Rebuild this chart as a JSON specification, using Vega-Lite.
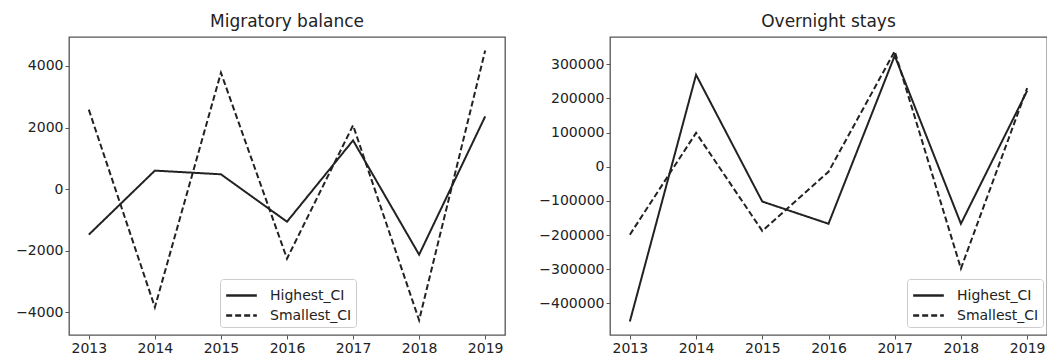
{
  "$schema": "https://vega.github.io/schema/vega-lite/v6.json",
  "autosize": {"type": "pad"},
  "padding": {"left": 14, "top": 12, "right": 0, "bottom": 5},
  "background": "white",
  "datasets": {
    "migratory": [
      {"year": 2013, "series": "Highest_CI", "value": -1480},
      {"year": 2014, "series": "Highest_CI", "value": 600},
      {"year": 2015, "series": "Highest_CI", "value": 480},
      {"year": 2016, "series": "Highest_CI", "value": -1060},
      {"year": 2017, "series": "Highest_CI", "value": 1580},
      {"year": 2018, "series": "Highest_CI", "value": -2130},
      {"year": 2019, "series": "Highest_CI", "value": 2360},
      {"year": 2013, "series": "Smallest_CI", "value": 2580},
      {"year": 2014, "series": "Smallest_CI", "value": -3840},
      {"year": 2015, "series": "Smallest_CI", "value": 3780},
      {"year": 2016, "series": "Smallest_CI", "value": -2260},
      {"year": 2017, "series": "Smallest_CI", "value": 2070},
      {"year": 2018, "series": "Smallest_CI", "value": -4260},
      {"year": 2019, "series": "Smallest_CI", "value": 4500}
    ],
    "overnight": [
      {"year": 2013, "series": "Highest_CI", "value": -453000},
      {"year": 2014, "series": "Highest_CI", "value": 269000},
      {"year": 2015, "series": "Highest_CI", "value": -102000},
      {"year": 2016, "series": "Highest_CI", "value": -167000},
      {"year": 2017, "series": "Highest_CI", "value": 325000},
      {"year": 2018, "series": "Highest_CI", "value": -167000},
      {"year": 2019, "series": "Highest_CI", "value": 222000},
      {"year": 2013, "series": "Smallest_CI", "value": -199000},
      {"year": 2014, "series": "Smallest_CI", "value": 99000},
      {"year": 2015, "series": "Smallest_CI", "value": -188000},
      {"year": 2016, "series": "Smallest_CI", "value": -15000},
      {"year": 2017, "series": "Smallest_CI", "value": 338000},
      {"year": 2018, "series": "Smallest_CI", "value": -298000},
      {"year": 2019, "series": "Smallest_CI", "value": 230000}
    ]
  },
  "config": {
    "font": "DejaVu Sans",
    "view": {"stroke": "#555", "strokeWidth": 1.3},
    "axis": {
      "grid": false,
      "domain": false,
      "tickColor": "#555",
      "tickSize": 4,
      "labelFontSize": 14,
      "labelColor": "#222",
      "labelFont": "DejaVu Sans",
      "title": null
    },
    "title": {"font": "DejaVu Sans", "fontSize": 17, "fontWeight": "normal", "color": "#222", "offset": 6},
    "legend": {
      "symbolType": "M-1.4,0H1.4",
      "symbolStrokeColor": "#222",
      "symbolStrokeWidth": 2.5,
      "symbolSize": 480,
      "symbolOffset": 5,
      "labelOffset": 16,
      "labelFontSize": 14,
      "labelFont": "DejaVu Sans",
      "labelColor": "#222",
      "fillColor": "white",
      "strokeColor": "#ccc",
      "cornerRadius": 3,
      "padding": 4,
      "rowPadding": 0,
      "title": null
    }
  },
  "hconcat": [
    {
      "title": "Migratory balance",
      "width": 436,
      "height": 298,
      "data": {"name": "migratory"},
      "mark": {"type": "line", "color": "#222", "strokeWidth": 2},
      "encoding": {
        "x": {"field": "year", "type": "quantitative", "scale": {"domain": [2012.7, 2019.3], "nice": false, "zero": false}, "axis": {"values": [2013, 2014, 2015, 2016, 2017, 2018, 2019], "format": "d", "labelFlush": false}},
        "y": {"field": "value", "type": "quantitative", "scale": {"domain": [-4740, 4940], "nice": false, "zero": false}, "axis": {"values": [-4000, -2000, 0, 2000, 4000], "format": "d"}},
        "strokeDash": {"field": "series", "type": "nominal", "scale": {"domain": ["Highest_CI", "Smallest_CI"], "range": [[1, 0], [6, 3]]}, "legend": {"orient": "none", "legendX": 151, "legendY": 242}}
      }
    },
    {
      "title": "Overnight stays",
      "width": 437,
      "height": 298,
      "data": {"name": "overnight"},
      "mark": {"type": "line", "color": "#222", "strokeWidth": 2},
      "encoding": {
        "x": {"field": "year", "type": "quantitative", "scale": {"domain": [2012.7, 2019.3], "nice": false, "zero": false}, "axis": {"values": [2013, 2014, 2015, 2016, 2017, 2018, 2019], "format": "d", "labelFlush": false}},
        "y": {"field": "value", "type": "quantitative", "scale": {"domain": [-492650, 379650], "nice": false, "zero": false}, "axis": {"values": [-400000, -300000, -200000, -100000, 0, 100000, 200000, 300000], "format": "d"}},
        "strokeDash": {"field": "series", "type": "nominal", "scale": {"domain": ["Highest_CI", "Smallest_CI"], "range": [[1, 0], [6, 3]]}, "legend": {"orient": "none", "legendX": 297, "legendY": 242}}
      }
    }
  ],
  "resolve": {"scale": {"strokeDash": "independent", "y": "independent", "x": "independent"}, "legend": {"strokeDash": "independent"}},
  "spacing": 105,
  "bounds": "flush"
}
